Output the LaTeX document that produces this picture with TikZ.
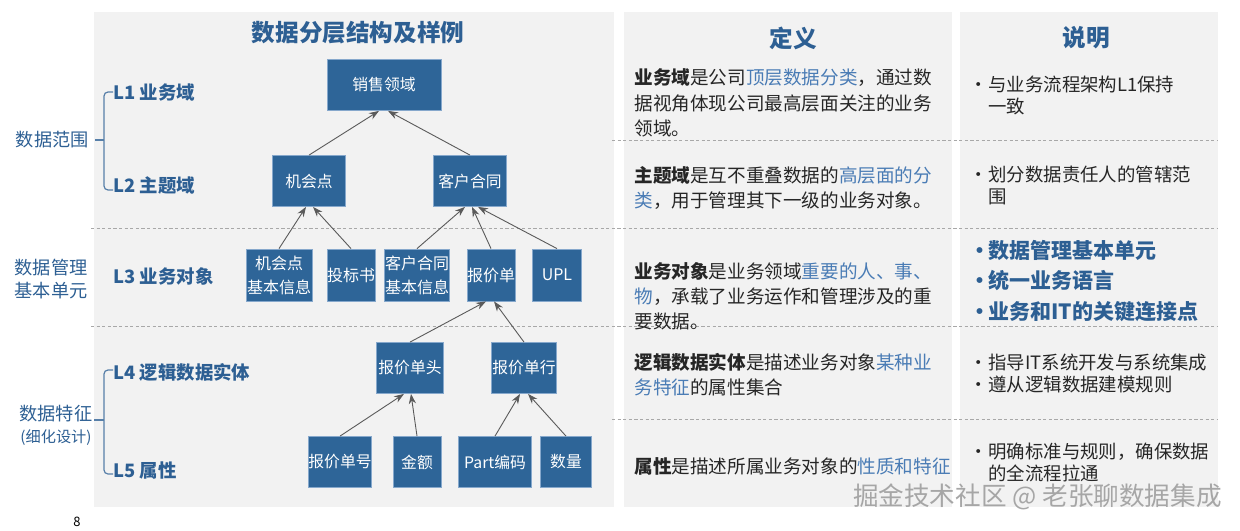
\documentclass[tikz,border=0pt]{standalone}
\usepackage{fontspec}
\setmainfont{Noto Sans CJK SC}
\usepackage{xcolor}
\definecolor{dlnode}{HTML}{2E6598}
\definecolor{dledge}{HTML}{86A8CC}
\definecolor{dltitle}{HTML}{2D5F93}
\definecolor{dlhl}{HTML}{4A7CB5}
\definecolor{dlpanel}{HTML}{F2F2F2}
\definecolor{dlarrow}{HTML}{5A5A5A}
\definecolor{dldash}{HTML}{A8A8A8}
\definecolor{dltext}{HTML}{262626}
\usepackage{tikz}
\usetikzlibrary{arrows.meta, positioning}
\newcommand{\dlbul}{\makebox[8pt][l]{\hspace*{-1.5pt}•}}

\begin{document}
\begin{tikzpicture}[x=0.5pt, y=-0.5pt,
  panel/.style={fill=dlpanel, draw=none},
  blk/.style={rectangle, draw=dledge, line width=0.4pt, fill=dlnode,
    text=white, inner sep=0pt, minimum height=25.5pt, align=center,
    font=\fontsize{7.9}{10}\selectfont},
  arr/.style={-{Stealth[length=5pt, width=3.6pt]}, draw=dlarrow, line width=0.45pt},
  sep/.style={draw=dldash, dashed, dash pattern=on 1.6pt off 1.2pt, line width=0.4pt},
  brk/.style={draw=dltitle!80, line width=0.6pt, rounded corners=2pt},
  head/.style={text=dltitle, font=\fontsize{11.8}{14}\selectfont\bfseries},
  lvl/.style={anchor=west, text=dltitle, inner sep=0pt, font=\fontsize{9.2}{11}\selectfont\bfseries},
  side/.style={text=dltitle, inner sep=0pt, font=\fontsize{9.1}{11}\selectfont},
  defn/.style={anchor=west, align=left, inner sep=0pt, text=dltext,
    font=\fontsize{9.3}{12.6}\selectfont},
  note/.style={anchor=west, align=left, inner sep=0pt, text=dltext,
    font=\fontsize{9.2}{11}\selectfont},
  keynote/.style={anchor=west, align=left, inner sep=0pt, text=dltitle,
    font=\fontsize{10.5}{15.3}\selectfont\bfseries}]
\useasboundingbox (0,0) rectangle (1240,530);

% panels
\fill[panel] (94,12) rectangle (614,507);
\fill[panel] (624,12) rectangle (952,507);
\fill[panel] (960,12) rectangle (1218,507);

% row separators
\draw[sep] (612,140) -- (1218,140);
\draw[sep] (91,228) -- (1218,228);
\draw[sep] (91,326) -- (1218,326);
\draw[sep] (612,419) -- (1218,419);

% titles
\node[head] (tstruct) at (358,33) {数据分层结构及样例};
\node[head] (tdef) at (793,38) {定义};
\node[head] (tnote) at (1086,38) {说明};

% levels
\node[lvl] (l1) at (113,92) {L1 业务域};
\node[lvl] (l2) at (113,185) {L2 主题域};
\node[lvl] (l3) at (113,276) {L3 业务对象};
\node[lvl] (l4) at (113,372) {L4 逻辑数据实体};
\node[lvl] (l5) at (113,470) {L5 属性};

\draw[brk] (l1.west) -- (104,92) -- (104,190) -- (l2.west |- 0,190);
\draw[draw=dltitle!80, line width=0.6pt] (104,140) -- (95,140);
\draw[brk] (l4.west |- 0,370) -- (104,370) -- (104,474) -- (l5.west |- 0,474);
\draw[draw=dltitle!80, line width=0.6pt] (104,420) -- (94,420);

\node[side, anchor=east] (scope) at (89,140) {数据范围};
\node[side, anchor=east, align=left, font=\fontsize{9.1}{11.2}\selectfont] (unit) at (88,279) {数据管理\\基本单元};
\node[side, align=center, font=\fontsize{9.1}{11}\selectfont] (feat) at (56,425)
  {数据特征\\{\fontsize{7.6}{9}\selectfont(细化设计)}};

% L1 / L2
\node[blk, minimum width=57pt] (xsly) at (384,85) {销售领域};
\node[blk, minimum width=36.5pt] (jhd) at (309,181) {机会点};
\node[blk, minimum width=36.5pt] (khht) at (470,181) {客户合同};

% L3
\node[blk, minimum width=33pt, minimum height=26pt, font=\fontsize{8}{12}\selectfont] (jhdxx) at (279,275) {机会点\\基本信息};
\node[blk, minimum width=24pt, minimum height=26pt, font=\fontsize{8}{12}\selectfont] (tbs) at (351,275) {投标书};
\node[blk, minimum width=32.5pt, minimum height=26pt, font=\fontsize{8}{12}\selectfont] (khhtxx) at (417,275) {客户合同\\基本信息};
\node[blk, minimum width=24pt, minimum height=26pt, font=\fontsize{8}{12}\selectfont] (bjd) at (491,275) {报价单};
\node[blk, minimum width=24.5pt, minimum height=26pt, font=\fontsize{8}{12}\selectfont] (upl) at (557,275) {UPL};

% L4
\node[blk, minimum width=33.5pt] (bjdt) at (410,368) {报价单头};
\node[blk, minimum width=32.5pt] (bjdh) at (524,368) {报价单行};

% L5
\node[blk, minimum width=28.5pt] (bjdno) at (340,462) {报价单号};
\node[blk, minimum width=24pt] (je) at (417,462) {金额};
\node[blk, minimum width=36.5pt] (part) at (495,462) {Part编码};
\node[blk, minimum width=25.5pt] (sl) at (566,462) {数量};

\draw[arr] (jhd.north) -- ([xshift=-2.5pt]xsly.south);
\draw[arr] (khht.north) -- ([xshift=2pt]xsly.south);
\draw[arr] (jhdxx.north) -- ([xshift=-1.5pt]jhd.south);
\draw[arr] (tbs.north) -- ([xshift=2pt]jhd.south);
\draw[arr] (khhtxx.north) -- ([xshift=-2.5pt]khht.south);
\draw[arr] (bjd.north) -- ([xshift=1pt]khht.south);
\draw[arr] (upl.north) -- ([xshift=4pt]khht.south);
\draw[arr] (bjdt.north) -- ([xshift=-2.5pt]bjd.south);
\draw[arr] (bjdh.north) -- ([xshift=1.5pt]bjd.south);
\draw[arr] (bjdno.north) -- ([xshift=-3pt]bjdt.south);
\draw[arr] (je.north) -- ([xshift=0.5pt]bjdt.south);
\draw[arr] (part.north) -- ([xshift=-2pt]bjdh.south);
\draw[arr] (sl.north) -- ([xshift=2pt]bjdh.south);

% definitions
\node[defn] (d1) at (634,103) {\textbf{业务域}是公司\textcolor{dlhl}{顶层数据分类}，通过数\\据视角体现公司最高层面关注的业务\\领域。};
\node[defn] (d2) at (634,188) {\textbf{主题域}是互不重叠数据的\textcolor{dlhl}{高层面的分}\\\textcolor{dlhl}{类}，用于管理其下一级的业务对象。};
\node[defn] (d3) at (634,296) {\textbf{业务对象}是业务领域\textcolor{dlhl}{重要的人、事、}\\\textcolor{dlhl}{物}，承载了业务运作和管理涉及的重\\要数据。};
\node[defn] (d4) at (634,375) {\textbf{逻辑数据实体}是描述业务对象\textcolor{dlhl}{某种业}\\\textcolor{dlhl}{务特征}的属性集合};
\node[defn] (d5) at (634,466) {\textbf{属性}是描述所属业务对象的\textcolor{dlhl}{性质和特征}};

% notes
\node[note] (n1) at (972,96) {\dlbul 与业务流程架构L1保持\\\hspace*{8pt}一致};
\node[note] (n2) at (972,185) {\dlbul 划分数据责任人的管辖范\\\hspace*{8pt}围};
\node[keynote] (n3) at (972,281) {\dlbul 数据管理基本单元\\\dlbul 统一业务语言\\\dlbul 业务和IT的关键连接点};
\node[note] (n4) at (972,373) {\dlbul 指导IT系统开发与系统集成\\\dlbul 遵从逻辑数据建模规则};
\node[note] (n5) at (972,462) {\dlbul 明确标准与规则，确保数据\\\hspace*{8pt}的全流程拉通};

\node[anchor=east, inner sep=0pt, text=black!35, font=\fontsize{12.8}{14}\selectfont] (mark) at (1222,497) {掘金技术社区 @ 老张聊数据集成};
\node[inner sep=0pt, font=\fontsize{6.5}{8}\selectfont] (pageno) at (77,522) {8};
\end{tikzpicture}
\end{document}
